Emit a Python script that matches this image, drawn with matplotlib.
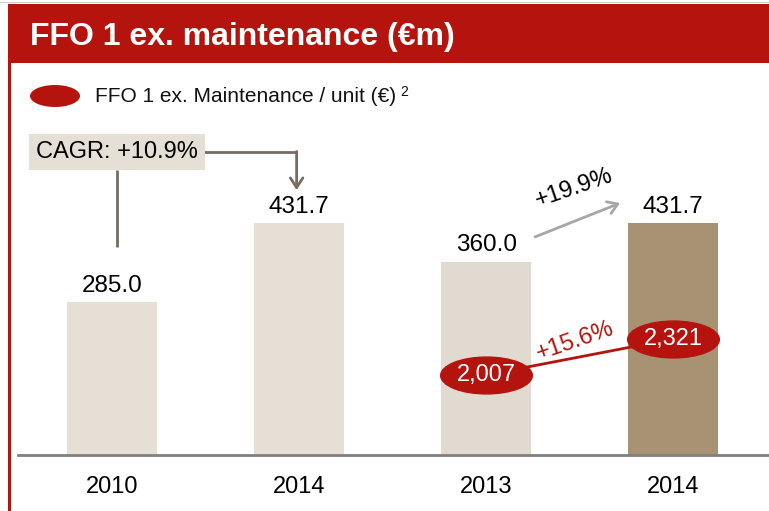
import matplotlib.pyplot as plt
from matplotlib.patches import Rectangle, Ellipse
from matplotlib.path import Path
from matplotlib.transforms import Affine2D

# datos
years = ["2010", "2014", "2013", "2014"]
ffo = [285.0, 431.7, 360.0, 431.7]
bar_colors = ["#E5DFD6", "#E5DFD6", "#E0DAD0", "#A89274"]
unit_idx = [2, 3]
ffo_unit = [2007, 2321]
cagr_txt = "CAGR: +10.9%"
growth_ffo = "+19.9%"
growth_unit = "+15.6%"

RED = "#B5140E"
BROWN = "#786B64"
W, H = 769, 511

plt.rcParams["font.family"] = ["Liberation Sans", "DejaVu Sans"]

fig = plt.figure(figsize=(W / 100, H / 100), dpi=100)


def fx(px):
    return px / W


def fy(py):
    return 1 - py / H


# marco: barra de título, línea superior y borde izquierdo
fig.add_artist(Rectangle((fx(0), fy(3.5)), 1, 1.5 / H, transform=fig.transFigure,
                         color="#D8C8C8", lw=0))
fig.add_artist(Rectangle((fx(8), fy(63)), 1, 59 / H, transform=fig.transFigure,
                         color=RED, lw=0))
fig.add_artist(Rectangle((fx(8), 0), 2.5 / W, fy(63), transform=fig.transFigure,
                         color=RED, lw=0))
fig.text(fx(30), fy(37.5), "FFO 1 ex. maintenance (€m)", color="white",
         fontsize=23, fontweight="bold", va="center", ha="left")

# leyenda
fig.add_artist(Ellipse((fx(55), fy(96)), 50 / W, 22 / H, transform=fig.transFigure,
                       color=RED, lw=0))
fig.text(fx(95), fy(97), "FFO 1 ex. Maintenance / unit (€)", fontsize=15,
         va="center", ha="left", color="#111111")
fig.text(fx(400), fy(92), "2", fontsize=10, va="center", ha="left", color="#111111")

# ejes principales
ax = fig.add_axes([fx(18), fy(455), 1 - fx(18), (455 - 130) / H])
x = range(len(years))
ax.bar(x, ffo, width=0.48, color=bar_colors, zorder=2)
ax.set_xlim(-0.503, 3.513)
ax.set_ylim(0, 605)
for xi, v in zip(x, ffo):
    ax.text(xi, v + 10, f"{v:.1f}", ha="center", va="bottom", fontsize=17.5)

ax.set_xticks(list(x))
ax.set_xticklabels(years, fontsize=17)
ax.tick_params(axis="x", length=0, pad=15)
ax.set_yticks([])
for s in ["top", "right", "left"]:
    ax.spines[s].set_visible(False)
ax.spines["bottom"].set_color("#808080")
ax.spines["bottom"].set_linewidth(2)

# CAGR
ax.text(0.027, 564, cagr_txt, ha="center", va="center", fontsize=17,
        bbox=dict(boxstyle="square,pad=0.3", fc="#E5DFD6", ec="none"))
ax.plot([0.028, 0.028], [531, 387], color=BROWN, lw=2, solid_capstyle="butt")
ax.plot([0.492, 0.987], [564, 564], color=BROWN, lw=2, solid_capstyle="butt")
ax.annotate("", xy=(0.987, 493), xytext=(0.987, 565),
            arrowprops=dict(arrowstyle="->,head_length=0.7,head_width=0.45",
                            color=BROWN, lw=2, shrinkA=0, shrinkB=0))

# crecimiento FFO 2013-2014
ax.annotate("", xy=(2.717, 469), xytext=(2.262, 406),
            arrowprops=dict(arrowstyle="->,head_length=0.7,head_width=0.45",
                            color="#A6A6A6", lw=2, shrinkA=0, shrinkB=0))
ax.text(2.47, 496, growth_ffo, ha="center", va="center", fontsize=17, rotation=19)

# eje secundario para FFO por unidad
ax2 = ax.twinx()
ax2.set_ylim(1309, 4143)
ax2.set_yticks([])
for s in ax2.spines.values():
    s.set_visible(False)
ell = Path.unit_circle().transformed(Affine2D().scale(1, 37 / 92))
ax2.plot(unit_idx, ffo_unit, color=RED, lw=2, zorder=3)
ax2.plot(unit_idx, ffo_unit, ls="none", marker=ell, markersize=66,
         color=RED, zorder=4)
for xi, v in zip(unit_idx, ffo_unit):
    ax2.text(xi, v, f"{v:,}", ha="center", va="center", color="white",
             fontsize=17, zorder=5)
ax2.text(2.475, 2300, growth_unit, ha="center", va="center", color=RED,
         fontsize=17, rotation=19)

fig.savefig("out.png", dpi=100)
